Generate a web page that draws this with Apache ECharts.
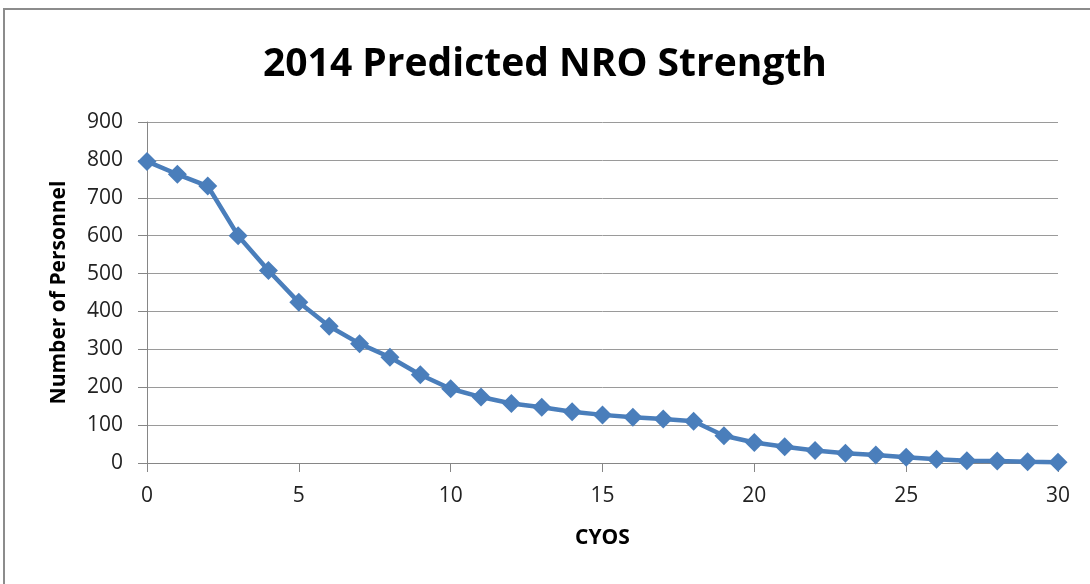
<!DOCTYPE html>
<html lang="en">
<head>
    <meta charset="utf-8">
    <title>2014 Predicted NRO Strength</title>
    <script src="https://cdn.jsdelivr.net/npm/echarts@6/dist/echarts.min.js"></script>
    <style>
        html, body { margin: 0; padding: 0; background: #fff; }
        #chart { width: 1090px; height: 584px; }
    </style>
</head>
<body>
<div id="chart"></div>
<script>
    // CYOS (years of service) and predicted personnel
    var cyos = [0, 1, 2, 3, 4, 5, 6, 7, 8, 9, 10, 11, 12, 13, 14, 15,
                16, 17, 18, 19, 20, 21, 22, 23, 24, 25, 26, 27, 28, 29, 30];
    var personnel = [796, 762, 731, 600, 508, 424, 361, 315, 279, 233, 196, 174, 157, 147, 135, 127,
                     121, 116, 110, 72, 54, 43, 33, 26, 21, 15, 10, 6, 5, 3, 2];
    var xTicks = [0, 5, 10, 15, 20, 25, 30];

    var points = [];
    for (var i = 0; i < cyos.length; i++) {
        points.push([cyos[i], personnel[i]]);
    }

    var font = "'Open Sans', 'Noto Sans', sans-serif";
    var chart = echarts.init(document.getElementById('chart'));
    chart.setOption({
        animation: false,
        backgroundColor: '#fff',
        title: {
            text: '2014 Predicted NRO Strength',
            left: 'center',
            top: 40,
            textStyle: { fontFamily: font, fontSize: 39, fontWeight: 'bold', color: '#000' }
        },
        graphic: [{
            type: 'rect',
            shape: { x: 4, y: 9, width: 1200, height: 700 },
            style: { fill: 'none', stroke: '#8c8c8c', lineWidth: 2 }
        }],
        grid: { left: 147, right: 32, top: 122, bottom: 121 },
        xAxis: {
            type: 'value',
            min: xTicks[0],
            max: xTicks[xTicks.length - 1],
            interval: 5,
            name: 'CYOS',
            nameLocation: 'middle',
            nameGap: 65,
            nameTextStyle: { fontFamily: font, fontSize: 21, fontWeight: 'bold', color: '#000' },
            axisLine: { lineStyle: { color: '#868686', width: 1 } },
            axisTick: { show: true, length: 9, lineStyle: { color: '#868686' } },
            axisLabel: { fontFamily: font, fontSize: 21, color: '#222', margin: 23 },
            splitLine: { show: false }
        },
        yAxis: {
            type: 'value',
            min: 0,
            max: 900,
            interval: 100,
            name: 'Number of Personnel',
            nameLocation: 'middle',
            nameGap: 77,
            nameRotate: 90,
            nameTextStyle: { fontFamily: font, fontSize: 21, fontWeight: 'bold', color: '#000' },
            axisLine: { show: true, lineStyle: { color: '#868686', width: 1 } },
            axisTick: { show: true, length: 9, lineStyle: { color: '#868686' } },
            axisLabel: { fontFamily: font, fontSize: 21, color: '#222', margin: 24 },
            splitLine: { lineStyle: { color: '#9a9a9a', width: 1 } }
        },
        series: [{
            type: 'line',
            data: points,
            symbol: 'diamond',
            symbolSize: 19,
            itemStyle: { color: '#4a7ebb' },
            lineStyle: { color: '#4a7ebb', width: 4.5 }
        }]
    });
</script>
</body>
</html>
